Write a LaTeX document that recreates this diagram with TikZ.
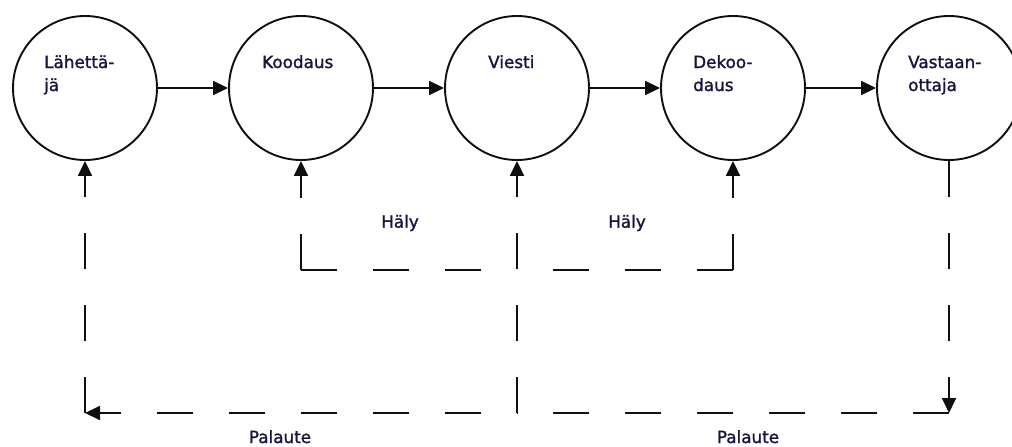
\documentclass[tikz,border=0pt]{standalone}
\usepackage{fontspec}
\setmainfont{DejaVu Sans}
\newfontfamily\labfont{DejaVu Sans}[FakeBold=1.4]
\usetikzlibrary{arrows.meta}
\definecolor{txt}{RGB}{22,22,60}
\definecolor{ln}{RGB}{15,15,15}
\begin{document}
\begin{tikzpicture}[x=1pt,y=-1pt,
  proc/.style={circle,draw=ln,line width=1.9pt,fill=white,minimum size=144pt,inner sep=0pt},
  lab/.style={text=txt,font=\labfont\fontsize{16.8}{23}\selectfont,align=left,inner sep=0pt,anchor=base west},
  word/.style={text=txt,font=\labfont\fontsize{16.8}{23}\selectfont,inner sep=0pt},
  tip/.style={-{Triangle[length=15pt,width=14pt]}},
  flow/.style={draw=ln,line width=1.8pt,tip},
  dashline/.style={draw=ln,line width=1.8pt,dash pattern=on 36pt off 36pt}
]
\clip (0,0) rectangle (1012,447);
\useasboundingbox (0,0) rectangle (1012,447);

% process circles
\node[proc] (s) at (85,88) {};
\node[proc] (k) at (301,88) {};
\node[proc] (v) at (517,88) {};
\node[proc] (d) at (733,88) {};
\node[proc] (r) at (949,88) {};

% texts
\node[lab] (ts) at (44,91) {Lähettä-\\jä};
\node[lab] (tk) at (262,68) {Koodaus};
\node[lab] (tv) at (488,68) {Viesti};
\node[lab] (td) at (693,91) {Dekoo-\\daus};
\node[lab] (tr) at (908,91) {Vastaan-\\ottaja};

% main flow
\draw[flow] (s) -- (k);
\draw[flow] (k) -- (v);
\draw[flow] (v) -- (d);
\draw[flow] (d) -- (r);

% helper coordinates
\coordinate (bl) at (85,413);
\coordinate (bm) at (517,413);
\coordinate (br) at (949,413);
\coordinate (nl) at (301,270);
\coordinate (nm) at (517,270);
\coordinate (nr) at (733,270);

% noise (Häly)
\draw[dashline,tip] (nl) -- (k);
\draw[dashline] (nl) -- (nm);
\draw[dashline,tip] (nr) -- (d);
\draw[dashline] (nr) -- (nm);
\draw[dashline,tip] (bm) -- (v);

% feedback (Palaute)
\draw[dashline,tip] (r) -- (br);
\draw[dashline] (br) -- (bm);
\draw[dashline,{Triangle[length=15pt,width=14pt]}-,dash phase=15pt] (bl) -- (bm);
\draw[dashline,tip] (bl) -- (s);

% labels
\node[word] (h1) at (400,223) {Häly};
\node[word] (h2) at (627,223) {Häly};
\node[word,anchor=base] (p1) at (280,443) {Palaute};
\node[word,anchor=base] (p2) at (748,443) {Palaute};
\end{tikzpicture}
\end{document}
